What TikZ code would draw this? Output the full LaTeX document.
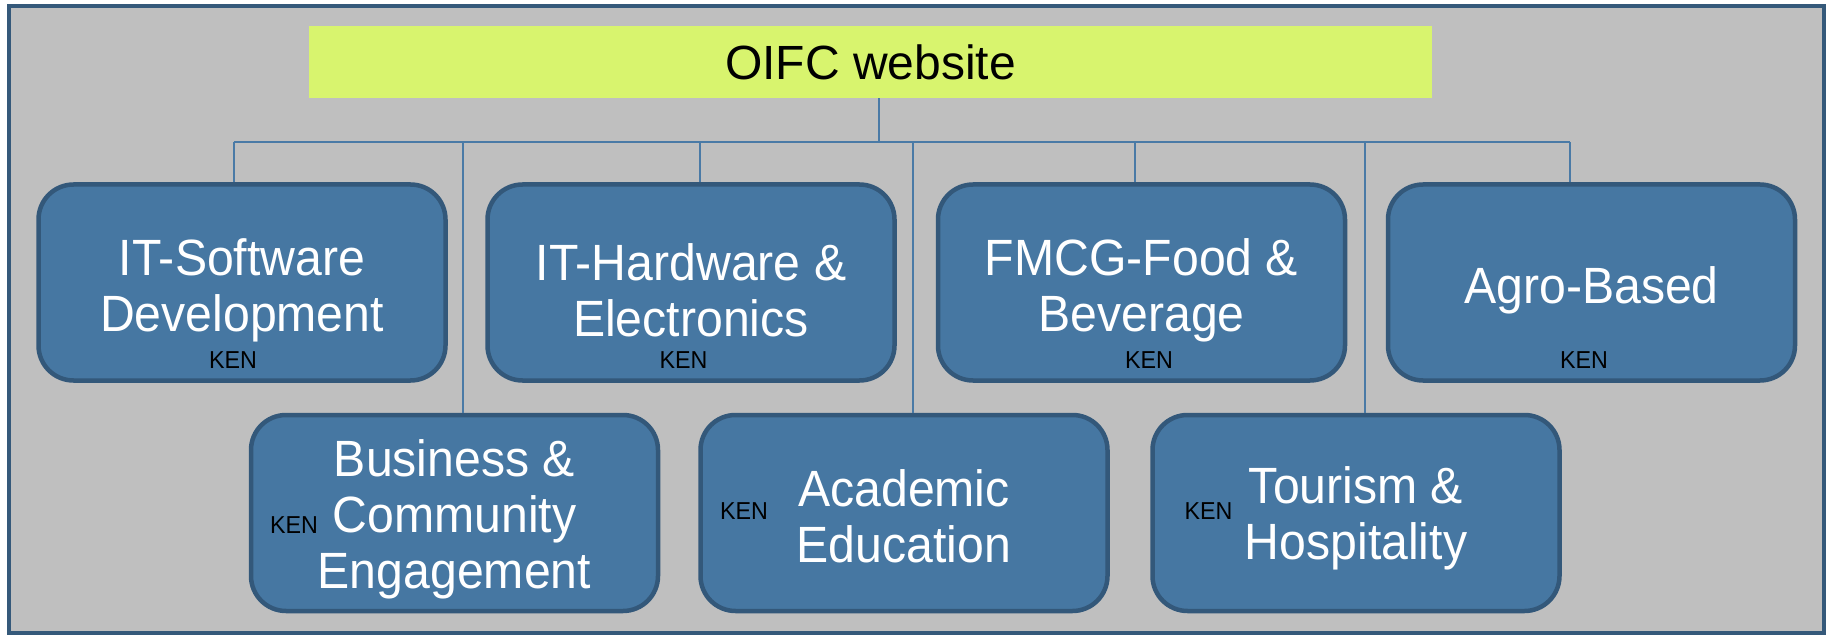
\documentclass[tikz,border=0pt]{standalone}
\usepackage{fontspec}
\setmainfont{Liberation Sans}
\newfontfamily\boxfont[FakeStretch=0.945]{Liberation Sans}
\newfontfamily\kenfont[FakeStretch=0.95]{Liberation Sans}
\definecolor{boxfill}{HTML}{4677A2}
\definecolor{boxedge}{HTML}{33587A}
\definecolor{framecol}{HTML}{35597A}
\definecolor{bggray}{HTML}{BFBFBF}
\definecolor{titlefill}{HTML}{D8F46E}
\definecolor{linkblue}{HTML}{4A7AA6}
\begin{document}
\begin{tikzpicture}[x=1pt,y=-1pt,
  cat/.style={rectangle, rounded corners=35pt, draw=boxedge, line width=4.5pt,
    fill=boxfill, minimum width=407pt, minimum height=196pt, inner sep=0pt},
  lbl/.style={text=white, align=center, inner sep=0pt,
    font=\boxfont\fontsize{51}{56}\selectfont},
  ken/.style={inner sep=0pt, text=black, font=\kenfont\fontsize{24.5}{25}\selectfont},
  link/.style={draw=linkblue, line width=1.5pt},
  titlebox/.style={rectangle, fill=titlefill, minimum width=1123pt, minimum height=72pt,
    inner sep=0pt, font=\fontsize{48}{52}\selectfont}]
\useasboundingbox (0,0) rectangle (1829,636);
\draw[draw=framecol, fill=bggray, line width=4pt] (9,6) rectangle (1824,633);

\node[titlebox] (title) at (870.5,62) {OIFC website};

\node[cat] (sw)   at (242,282.5)    {};
\node[cat] (hw)   at (691,282.5)    {};
\node[cat] (fmcg) at (1141.5,282.5) {};
\node[cat] (agro) at (1591.5,282.5) {};
\node[cat] (bus)  at (454.5,513)    {};
\node[cat] (acad) at (904,513)      {};
\node[cat] (tour) at (1356,513)     {};

\node[lbl] (swt)   at (242,290.5)    {IT-Software\\Development};
\node[lbl] (hwt)   at (691,290.5)    {IT-Hardware \&\\Electronics};
\node[lbl] (fmcgt) at (1141.5,290.5) {FMCG-Food \&\\Beverage};
\node[lbl] (agrot) at (1591.5,290.5) {Agro-Based};
\node[lbl] (bust)  at (454.5,519)    {Business \&\\Community\\Engagement};
\node[lbl] (acadt) at (904,516)      {Academic\\Education};
\node[lbl] (tourt) at (1356,518)     {Tourism \&\\Hospitality};

\node[ken] (k1) at (233,360)    {KEN};
\node[ken] (k2) at (683.5,360)  {KEN};
\node[ken] (k3) at (1149,360)   {KEN};
\node[ken] (k4) at (1584,360)   {KEN};
\node[ken] (k5) at (294,525)    {KEN};
\node[ken] (k6) at (744,511)    {KEN};
\node[ken] (k7) at (1208.5,511) {KEN};

\coordinate (hub) at (879,142);
\coordinate (busL) at (234,142);
\coordinate (busR) at (1570,142);
\draw[link] (title.south -| hub) -- (hub);
\draw[link] (busL) -- (busR);
\foreach \x/\b in {234/sw, 463/bus, 700/hw, 913/acad, 1135/fmcg, 1365/tour, 1570/agro}{
  \coordinate (d\b) at (\x,142);
  \draw[link] (d\b) -- (d\b |- \b.north);
}
\end{tikzpicture}
\end{document}
